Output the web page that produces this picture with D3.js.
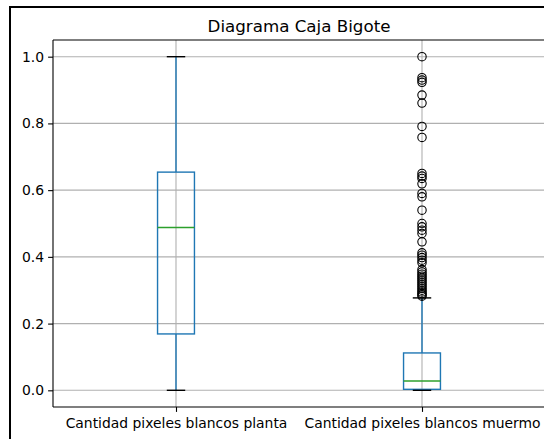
<!DOCTYPE html>
<html>
<head>
<meta charset="utf-8">
<script src="https://cdn.jsdelivr.net/npm/d3@7"></script>
<style>
  html, body { margin: 0; padding: 0; background: #fff; }
  svg { display: block; }
  text { font-family: "DejaVu Sans", sans-serif; fill: #000; }
</style>
</head>
<body>
<svg id="chart" width="544" height="439"></svg>
<script>
// Box-plot summary per column
const categories = ["Cantidad pixeles blancos planta", "Cantidad pixeles blancos muermo"];
const whiskerLow  = [0.0,   0.0];
const q1          = [0.169, 0.003];
const median      = [0.488, 0.028];
const q3          = [0.654, 0.112];
const whiskerHigh = [1.0,   0.277];
// Outlier points (only the second column has any)
const outliersPlanta = [];
const outliersMuermo = [1.0, 0.937, 0.930, 0.923, 0.885, 0.861, 0.791, 0.758,
  0.650, 0.642, 0.635, 0.619, 0.590, 0.580, 0.540, 0.500, 0.490, 0.480, 0.470,
  0.445, 0.412, 0.405, 0.398, 0.390, 0.382, 0.362, 0.355, 0.348, 0.342, 0.336,
  0.330, 0.324, 0.318, 0.312, 0.306, 0.300, 0.295, 0.290, 0.286, 0.282];
const yTicks = [0.0, 0.2, 0.4, 0.6, 0.8, 1.0];
const titleText = "Diagrama Caja Bigote";

const outliers = [outliersPlanta, outliersMuermo];
const svg = d3.select("#chart");

// outer frame
svg.append("line").attr("x1", 9).attr("x2", 544).attr("y1", 7).attr("y2", 7)
  .attr("stroke", "#000").attr("stroke-width", 2);
svg.append("line").attr("x1", 10).attr("x2", 10).attr("y1", 6).attr("y2", 439)
  .attr("stroke", "#000").attr("stroke-width", 2);

const plot = { left: 53, right: 545, top: 40, bottom: 407 };
const x = d3.scaleLinear().domain([0.5, 2.5]).range([plot.left, plot.right]);
const y = d3.scaleLinear().domain([-0.05, 1.05]).range([plot.bottom, plot.top]);
const pos = categories.map((c, i) => i + 1);

// grid
const grid = svg.append("g").attr("stroke", "#b0b0b0").attr("stroke-width", 1.1);
grid.selectAll(".gy").data(yTicks).join("line")
  .attr("x1", plot.left).attr("x2", plot.right)
  .attr("y1", d => y(d)).attr("y2", d => y(d));
grid.selectAll(".gx").data(pos).join("line")
  .attr("x1", d => x(d)).attr("x2", d => x(d))
  .attr("y1", plot.top).attr("y2", plot.bottom);

// axes
const yAxis = d3.axisLeft(y).tickValues(yTicks).tickFormat(d3.format(".1f"))
  .tickSize(4.9).tickPadding(4);
const gy = svg.append("g").attr("transform", `translate(${plot.left},0)`).call(yAxis);
const xAxis = d3.axisBottom(x).tickValues(pos).tickFormat((d, i) => categories[i])
  .tickSize(4.9).tickPadding(6);
const gx = svg.append("g").attr("transform", `translate(0,${plot.bottom})`).call(xAxis);
[gy, gx].forEach(g => {
  g.select(".domain").remove();
  g.selectAll(".tick line").attr("stroke", "#000").attr("stroke-width", 1.1);
  g.selectAll(".tick text").attr("font-size", 13.9).attr("font-family", "DejaVu Sans").attr("fill", "#000");
});

// spines
svg.append("line").attr("x1", plot.left).attr("x2", plot.left)
  .attr("y1", plot.top).attr("y2", plot.bottom).attr("stroke", "#000").attr("stroke-width", 1.1);
svg.append("line").attr("x1", plot.left).attr("x2", plot.right)
  .attr("y1", plot.bottom).attr("y2", plot.bottom).attr("stroke", "#000").attr("stroke-width", 1.1);
svg.append("line").attr("x1", plot.left).attr("x2", plot.right)
  .attr("y1", plot.top).attr("y2", plot.top).attr("stroke", "#000").attr("stroke-width", 1.1);

// boxes
const boxW = x(1.15) - x(1);
const capW = boxW / 2;
const blue = "#1f77b4";
pos.forEach((p, i) => {
  const cx = x(p);
  const g = svg.append("g");
  g.append("line").attr("x1", cx).attr("x2", cx)
    .attr("y1", y(whiskerLow[i])).attr("y2", y(q1[i])).attr("stroke", blue).attr("stroke-width", 1.4);
  g.append("line").attr("x1", cx).attr("x2", cx)
    .attr("y1", y(q3[i])).attr("y2", y(whiskerHigh[i])).attr("stroke", blue).attr("stroke-width", 1.4);
  g.append("rect").attr("x", cx - boxW / 2).attr("width", boxW)
    .attr("y", y(q3[i])).attr("height", y(q1[i]) - y(q3[i]))
    .attr("fill", "none").attr("stroke", blue).attr("stroke-width", 1.4);
  g.append("line").attr("x1", cx - boxW / 2).attr("x2", cx + boxW / 2)
    .attr("y1", y(median[i])).attr("y2", y(median[i])).attr("stroke", "#2ca02c").attr("stroke-width", 1.4);
  [whiskerLow[i], whiskerHigh[i]].forEach(v => {
    g.append("line").attr("x1", cx - capW / 2).attr("x2", cx + capW / 2)
      .attr("y1", y(v)).attr("y2", y(v)).attr("stroke", "#000").attr("stroke-width", 1.4);
  });
  g.selectAll("circle").data(outliers[i]).join("circle")
    .attr("cx", cx).attr("cy", d => y(d)).attr("r", 4.2)
    .attr("fill", "none").attr("stroke", "#000").attr("stroke-width", 1.1);
});

// title
svg.append("text").attr("x", (plot.left + plot.right) / 2).attr("y", 32)
  .attr("text-anchor", "middle").attr("font-size", 16.7).text(titleText);
</script>
</body>
</html>
